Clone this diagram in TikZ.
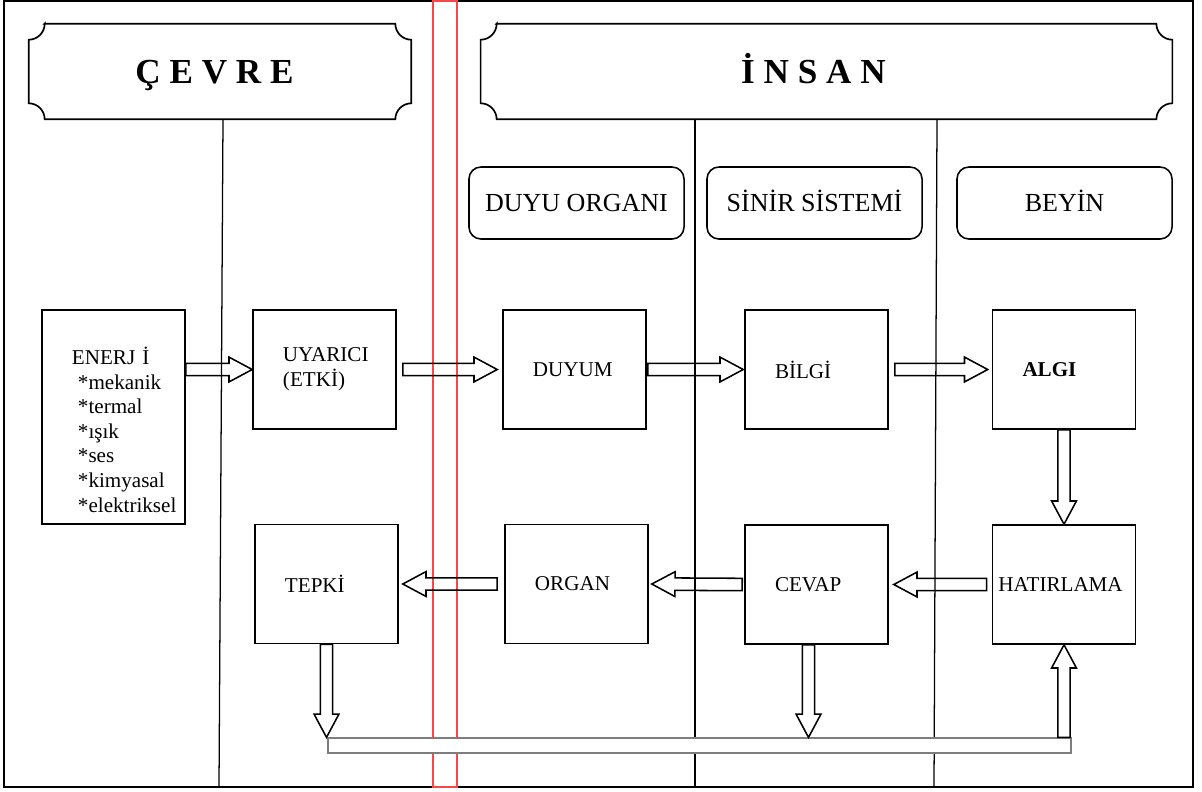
\documentclass[tikz,border=0pt]{standalone}
\usepackage{fontspec}
\setmainfont{Liberation Serif}
\usetikzlibrary{calc,positioning}
\hyphenpenalty=10000
\definecolor{bandred}{RGB}{250,70,70}
\definecolor{bargray}{RGB}{125,125,125}
\tikzset{
  procbox/.style={
    draw,
    line width=1.1pt,
    minimum width=3.575cm,
    minimum height=2.975cm,
    text width=2.075cm,
    inner xsep=0.75cm,
    align=left,
    font=\fontsize{15}{17.5}\selectfont
  },
  headbox/.style={
    draw,
    line width=1.1pt,
    rounded corners=0.3cm,
    minimum width=5.375cm,
    minimum height=1.8cm,
    text height=12.2pt,
    text depth=0pt,
    font=\fontsize{18.5}{22}\selectfont
  },
  banner/.style={
    minimum height=2.375cm,
    inner sep=0pt,
    text height=16.5pt,
    text depth=0pt,
    font=\bfseries\fontsize{25}{30}\selectfont
  },
  bannerline/.style={line width=1.2pt},
  laneline/.style={line width=0.9pt},
  redband/.style={draw=bandred, line width=0.75pt},
  blockarrow/.style={line width=1.1pt, line join=miter},
  barbox/.style={
    draw=bargray,
    fill=white,
    line width=0.9pt,
    minimum width=18.575cm,
    minimum height=0.375cm,
    inner sep=0pt
  }
}
% frame with hollowed corners round a banner node
\newcommand{\bannerframe}[1]{%
  \draw[bannerline] ($(#1.north west)+(16,0)$) -- ($(#1.north east)+(-16,0)$)
    arc[start angle=180, end angle=270, radius=0.4cm]
    -- ($(#1.south east)+(0,16)$)
    arc[start angle=90, end angle=180, radius=0.4cm]
    -- ($(#1.south west)+(16,0)$)
    arc[start angle=0, end angle=90, radius=0.4cm]
    -- ($(#1.north west)+(0,-16)$)
    arc[start angle=270, end angle=360, radius=0.4cm]
    -- cycle;
}
% hollow block arrow: #1 tail, #2 tip
\newcommand{\blockarrow}[2]{%
  \coordinate (ba-t) at #1;
  \coordinate (ba-h) at #2;
  \coordinate (ba-b) at ($(ba-h)!0.58cm!(ba-t)$);
  \draw[blockarrow] ($(ba-t)!0.155cm!90:(ba-h)$) -- ($(ba-b)!0.155cm!90:(ba-h)$)
    -- ($(ba-b)!0.31cm!90:(ba-h)$) -- (ba-h)
    -- ($(ba-b)!0.31cm!-90:(ba-h)$) -- ($(ba-b)!0.155cm!-90:(ba-h)$)
    -- ($(ba-t)!0.155cm!-90:(ba-h)$) -- cycle;
}

\begin{document}
\begin{tikzpicture}[x=0.025cm, y=0.025cm]
  \useasboundingbox (0,0) rectangle (1202,-791);
  % frame and red band
  \draw[line width=1pt] (4,-1) rectangle (1193,-787);
  \draw[redband] (433,-1) rectangle (457,-787);

  % banners
  \node[banner, minimum width=9.55cm] (cevre) at (220,-71.5) {Ç E V R E\kern0.275cm};
  \node[banner, minimum width=17.275cm] (insan) at (826.5,-71.5) {İ N S A N\kern0.65cm};
  \bannerframe{cevre}
  \bannerframe{insan}

  % lanes
  \draw[laneline] ($(cevre.south)+(3,0)$) -- (219,-787);
  \draw[laneline] (insan.south -| 695,0) -- (695,-787);
  \draw[laneline] (insan.south -| 937,0) -- (934,-787);

  % column headings
  \node[headbox] (duyu) at (576.5,-203) {DUYU ORGANI};
  \node[headbox] (sinir) at (814.5,-203) {SİNİR SİSTEMİ};
  \node[headbox] (beyin) at (1064.5,-203) {BEYİN};

  % process boxes
  \node[procbox, minimum height=5.35cm] (enerji) at (113.5,-417) {\rule{0pt}{1.07cm}ENERJ İ\\
    \hspace*{0.15cm}*mekanik\\ \hspace*{0.15cm}*termal\\ \hspace*{0.15cm}*ışık\\
    \hspace*{0.15cm}*ses\\ \hspace*{0.15cm}*kimyasal\\ \hspace*{0.15cm}*elektriksel};
  \node[procbox] (uyarici) at (324.5,-369.5) {UYARICI\\(ETKİ)};
  \node[procbox] (duyum) at (574.5,-369.5) {DUYUM};
  \node[procbox] (bilgi) at (816.5,-369.5) {BİLGİ};
  \node[procbox, font=\bfseries\fontsize{15}{17.5}\selectfont] (algi) at (1064,-369.5) {ALGI};
  \node[procbox] (tepki) at (326.5,-584) {TEPKİ};
  \node[procbox] (organ) at (576.5,-584) {ORGAN};
  \node[procbox, below=2.36cm of bilgi] (cevap) {CEVAP};
  \node[procbox, below=2.36cm of algi, text width=3.275cm, inner xsep=0.15cm] (hatirlama) {HATIRLAMA};

  \node[barbox] (bar) at (699.5,-745.5) {};
  \coordinate (cv) at ($(cevap.south)+(-8,0)$);

  \blockarrow{(enerji.east |- uyarici.west)}{(uyarici.west)}
  \blockarrow{($(uyarici.east)+(6,0)$)}{($(duyum.west)+(-5,0)$)}
  \blockarrow{($(duyum.east)+(1,0)$)}{($(bilgi.west)+(-1,0)$)}
  \blockarrow{($(bilgi.east)+(6,0)$)}{($(algi.west)+(-4,0)$)}
  \blockarrow{(algi.south)}{(hatirlama.north)}
  \blockarrow{($(hatirlama.west)+(-5,0)$)}{($(cevap.east)+(5,0)$)}
  \blockarrow{($(cevap.west)+(-2,0)$)}{($(organ.east)+(3,0)$)}
  \blockarrow{($(organ.west)+(-7,0)$)}{($(tepki.east)+(4,0)$)}
  \blockarrow{(tepki.south)}{(tepki.south |- bar.north)}
  \blockarrow{(cv)}{(cv |- bar.north)}
  \blockarrow{(hatirlama.south |- bar.north)}{(hatirlama.south)}
\end{tikzpicture}
\end{document}
